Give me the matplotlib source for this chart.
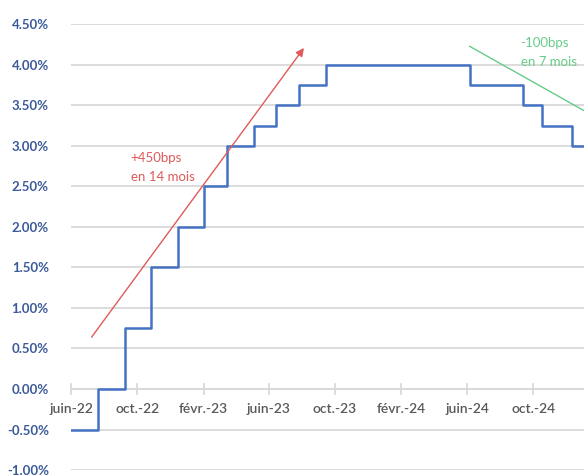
import matplotlib
matplotlib.use("Agg")
import matplotlib.pyplot as plt
import matplotlib.dates as mdates
import matplotlib.ticker as mticker
import numpy as np
import pandas as pd

plt.rcParams["font.family"] = ["Lato", "DejaVu Sans"]

# ECB deposit facility rate, decision dates (%)
change_dates = ["2022-06-01", "2022-07-21", "2022-09-08", "2022-10-27", "2022-12-15",
                "2023-02-02", "2023-03-16", "2023-05-04", "2023-06-15", "2023-07-27",
                "2023-09-14", "2024-06-06", "2024-09-12", "2024-10-17", "2024-12-12",
                "2025-01-05"]
rates = [-0.50, 0.00, 0.75, 1.50, 2.00, 2.50, 3.00, 3.25, 3.50, 3.75,
         4.00, 3.75, 3.50, 3.25, 3.00, 3.00]

tick_dates = ["2022-06-01", "2022-10-01", "2023-02-01", "2023-06-01",
              "2023-10-01", "2024-02-01", "2024-06-01", "2024-10-01"]
tick_labels = ["juin-22", "oct.-22", "févr.-23", "juin-23",
               "oct.-23", "févr.-24", "juin-24", "oct.-24"]

hike_arrow = (["2022-07-09", "2023-08-05"], [0.64, 4.21])
cut_line = (["2024-06-06", "2025-01-02"], [4.23, 3.44])
hike_text = ("2022-09-19", 2.74, "+450bps\nen 14 mois")
cut_text = ("2024-09-08", 4.15, "-100bps\nen 7 mois")

blue = "#4472C4"
red = "#E05A5A"
green = "#66CC88"
grid = "#D9D9D9"

fig = plt.figure(figsize=(5.84, 4.75), dpi=100)
ax = fig.add_axes([0.1216, 0.0105, 0.8784, 0.938])

d = pd.to_datetime(change_dates)
ax.plot(d, rates, drawstyle="steps-post", color=blue, lw=1.8, zorder=3)

ax.set_ylim(-1.0, 4.5)
ax.set_xlim(pd.Timestamp("2022-06-01"), pd.Timestamp("2025-01-03"))
ax.set_yticks(np.arange(-1.0, 4.51, 0.5))
ax.yaxis.set_major_formatter(mticker.FuncFormatter(lambda v, p: f"{v:.2f}%"))
ax.grid(axis="y", color=grid, lw=1.3)
ax.set_axisbelow(True)
for s in ax.spines.values():
    s.set_visible(False)
ax.tick_params(axis="y", length=0, pad=16, labelsize=9.5, labelcolor="#3B5A9A")
for t in ax.get_yticklabels():
    t.set_fontweight("bold")

# zero axis with crossing ticks and date labels
ax.axhline(0, color=grid, lw=1.3, zorder=1)
ax.set_xticks([])
for td, tl in zip(pd.to_datetime(tick_dates), tick_labels):
    ax.plot([td, td], [-0.06, 0.06], color=grid, lw=1.3, zorder=1, clip_on=False)
    ax.text(td, -0.25, tl, ha="center", va="center", fontsize=10,
            color="#595959", fontweight="semibold")

ax.annotate("", xy=(pd.Timestamp(hike_arrow[0][1]), hike_arrow[1][1]),
            xytext=(pd.Timestamp(hike_arrow[0][0]), hike_arrow[1][0]),
            arrowprops=dict(arrowstyle="-|>", color=red, lw=1.0,
                            mutation_scale=12, shrinkA=0, shrinkB=0),
            zorder=4)
ax.plot(pd.to_datetime(cut_line[0]), cut_line[1], color=green, lw=1.0, zorder=4)

ax.text(pd.Timestamp(hike_text[0]), hike_text[1], hike_text[2], color=red,
        fontsize=9.5, ha="left", va="center", linespacing=1.7)
ax.text(pd.Timestamp(cut_text[0]), cut_text[1], cut_text[2], color=green,
        fontsize=9.5, ha="left", va="center", linespacing=1.7)

fig.savefig("out.png", dpi=100)
